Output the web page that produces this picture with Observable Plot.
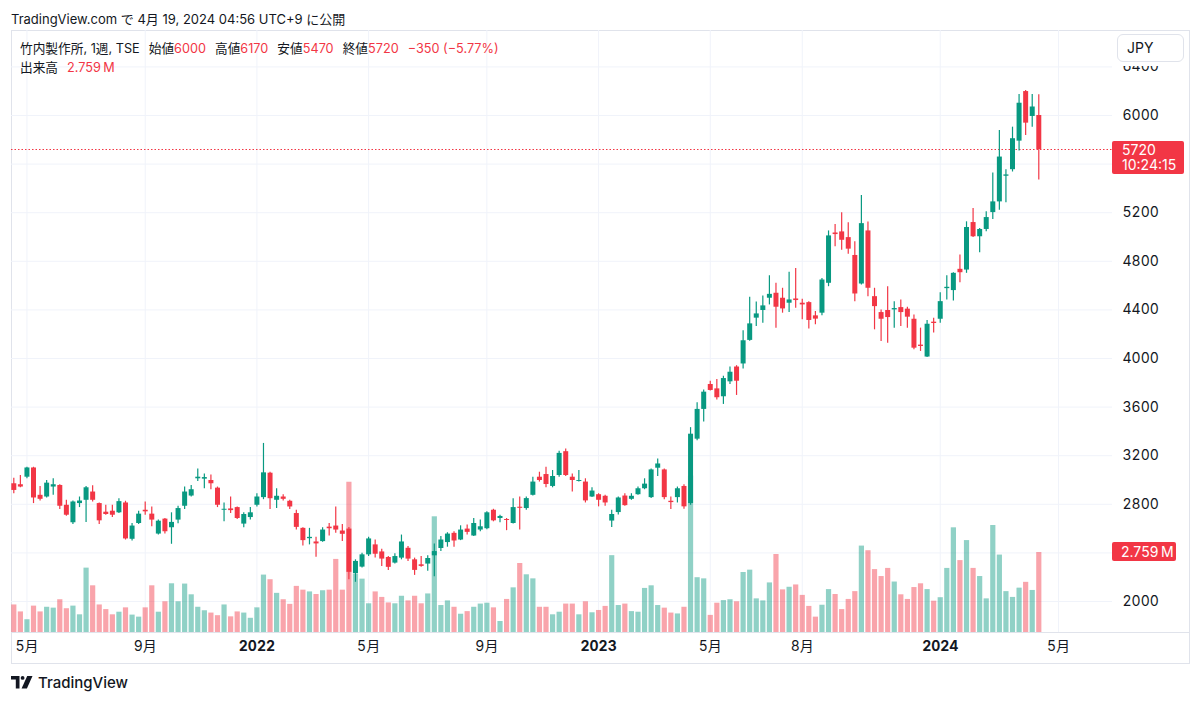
<!DOCTYPE html>
<html><head><meta charset="utf-8">
<script src="https://cdn.jsdelivr.net/npm/d3@7"></script>
<script src="https://cdn.jsdelivr.net/npm/@observablehq/plot@0.6"></script>
<style>
html,body{margin:0;padding:0;background:#fff;}
body{width:1200px;height:701px;overflow:hidden;font-family:Inter,"Noto Sans CJK JP",sans-serif;color:#131722;}
#wrap{position:relative;width:1200px;height:701px;}
.layer{position:absolute;left:0;top:0;}
#frame{position:absolute;left:11px;top:30px;width:1177px;height:632px;border:1px solid #e0e3eb;box-sizing:content-box;}
#sep{position:absolute;left:11px;top:632px;width:1178px;height:1px;background:#e0e3eb;}
#title{position:absolute;left:11px;top:9px;font-size:13px;line-height:20px;white-space:nowrap;}
.leg{position:absolute;left:20px;font-size:12.7px;line-height:18px;white-space:nowrap;}
.leg .r{color:#f23645;}
.leg .g{margin-left:9px;}
#cover{position:absolute;left:1113px;top:31px;width:75px;height:35px;background:#fff;}
#jpy{position:absolute;left:1117px;top:34px;width:67px;height:28px;border:1px solid #e0e3eb;border-radius:6px;background:#fff;box-sizing:border-box;font-size:14px;line-height:26px;padding-left:9px;}
.box{position:absolute;left:1112px;background:#f23645;color:#fff;font-size:14px;border-radius:2px;white-space:nowrap;}
#pbox{width:72px;height:33px;padding-left:10px;box-sizing:border-box;line-height:15.5px;padding-top:1px;}
#vbox{width:64px;height:19px;padding-left:9px;box-sizing:border-box;line-height:19px;}
#logo{position:absolute;left:11px;top:673px;display:flex;align-items:center;gap:5px;font-size:15px;font-weight:500;}
.priceline line{stroke:#f23645 !important;}
</style>
</head><body>
<div id="wrap">
  <div id="title">TradingView.com で 4月 19, 2024 04:56 UTC+9 に公開</div>
  <div id="frame"></div>
  <div id="sep"></div>
</div>
<script>
// ---- data (weekly candles, 竹内製作所 TSE, from week of 2021-04-19) ----
const startWeek = "2021-04-19";
const opens = [2969,2961,3023,3099,2874,2860,2942,2955,2792,2648,2806,2833,2901,2806,2735,2743,2730,2811,2512,2642,2751,2719,2555,2678,2607,2670,2784,2868,3010,3007,2996,2933,2751,2762,2773,2637,2691,2792,2855,3056,2833,2860,2825,2724,2602,2517,2490,2493,2612,2621,2580,2596,2229,2283,2384,2466,2408,2362,2316,2357,2438,2343,2302,2308,2376,2436,2485,2561,2506,2596,2539,2588,2599,2751,2683,2675,2642,2776,2765,2874,3023,3045,2947,3037,3233,3023,2988,2983,2860,2879,2866,2662,2732,2868,2841,2879,2928,2855,3097,3083,2825,2855,2947,2806,3336,3581,3786,3750,3685,3808,3930,3955,4149,4332,4395,4496,4537,4496,4455,4490,4455,4460,4351,4373,4619,5033,5042,4995,4848,4613,5050,4509,4378,4395,4400,4419,4406,4323,4110,4012,4299,4323,4575,4559,4734,4728,5119,5002,5062,5201,5289,5500,5554,5789,6197,5992,6000];
const highs = [3015,3037,3105,3105,2947,2996,3010,2961,2833,2827,2860,2947,2953,2811,2792,2792,2846,2825,2642,2743,2819,2778,2670,2683,2730,2784,2942,2955,3091,3050,3042,2942,2811,2860,2778,2730,2773,2887,3301,3064,2928,2879,2833,2751,2607,2602,2528,2607,2642,2778,2634,2610,2343,2398,2528,2506,2430,2370,2392,2547,2452,2357,2370,2376,2474,2534,2566,2574,2623,2629,2683,2670,2738,2759,2710,2683,2846,2860,2860,3023,3064,3105,3078,3236,3255,3050,3078,3010,2936,2887,2874,2751,2860,2887,2887,2942,3010,3091,3173,3091,2860,2942,2961,3431,3635,3740,3813,3827,3854,3930,3941,4228,4504,4466,4515,4681,4619,4578,4709,4741,4488,4468,4386,4659,5050,5102,5200,5118,4960,5342,5124,4578,4400,4591,4468,4482,4422,4359,4250,4313,4332,4542,4682,4706,4851,5125,5234,5070,5207,5527,5877,5554,5904,6172,6205,6172,6170];
const lows = [2887,2936,3010,2806,2827,2852,2874,2757,2702,2634,2773,2651,2819,2634,2710,2691,2724,2506,2498,2634,2710,2615,2547,2555,2471,2640,2757,2860,2988,2928,2920,2773,2656,2724,2675,2607,2670,2778,2838,2757,2765,2827,2757,2588,2457,2466,2365,2487,2539,2561,2493,2180,2158,2275,2370,2357,2289,2256,2308,2343,2330,2215,2281,2248,2204,2411,2447,2447,2501,2547,2534,2574,2591,2656,2648,2583,2637,2588,2751,2868,2983,2936,2936,3023,3029,2901,2983,2811,2855,2779,2784,2610,2711,2784,2833,2874,2920,2847,3029,2838,2757,2811,2759,2792,3323,3477,3732,3658,3622,3786,3696,3914,4141,4264,4291,4441,4250,4373,4378,4414,4318,4242,4277,4351,4591,4919,4891,4859,4468,4605,4509,4236,4140,4126,4250,4263,4250,4072,4058,4009,4209,4291,4482,4474,4624,4701,4996,4870,5043,5144,5220,5281,5535,5707,5836,5904,5470];
const closes = [2914,2942,3099,2852,2841,2974,2961,2784,2710,2819,2827,2936,2833,2664,2716,2710,2822,2515,2621,2719,2738,2670,2661,2574,2651,2765,2901,2920,3023,3020,2969,2792,2759,2748,2683,2716,2730,2860,3059,2846,2866,2841,2778,2610,2501,2528,2474,2588,2599,2588,2553,2240,2330,2384,2515,2389,2349,2281,2370,2490,2349,2256,2289,2354,2411,2506,2555,2498,2588,2569,2642,2615,2730,2664,2700,2667,2773,2767,2847,2983,2996,2963,3029,3219,3037,2996,2996,2828,2909,2833,2811,2716,2852,2789,2866,2928,2966,3083,3132,2855,2814,2928,2779,3377,3581,3723,3737,3677,3835,3887,3813,4146,4285,4367,4433,4528,4422,4408,4482,4477,4441,4313,4324,4646,5009,5020,4973,4900,4531,5110,4578,4427,4323,4337,4411,4378,4340,4085,4099,4282,4288,4468,4586,4701,4706,5078,5002,5062,5160,5289,5658,5511,5809,6101,5937,6070,5720];
// volume in millions of shares
const volumes = [0.95,0.71,0.44,0.91,0.71,0.87,0.84,1.13,0.82,0.91,0.61,2.22,1.61,0.95,0.79,0.61,0.70,0.85,0.60,0.53,0.85,1.61,0.70,1.06,1.68,1.06,1.67,1.30,0.87,0.75,0.67,0.58,0.95,0.54,0.71,0.67,0.49,0.85,1.98,1.82,1.35,1.13,0.97,1.59,1.46,1.40,1.31,1.44,1.46,2.52,1.46,5.18,2.01,1.84,0.99,1.40,1.21,1.02,0.99,1.25,1.09,1.25,0.99,1.33,3.99,0.93,1.09,0.87,0.63,0.72,0.87,0.98,1.01,0.85,0.38,1.14,1.54,2.38,1.99,1.85,0.87,0.87,0.61,0.70,0.98,0.98,0.61,1.06,0.68,0.76,0.90,2.65,0.93,0.98,0.72,0.70,1.52,1.61,0.93,0.84,0.67,0.64,0.87,5.40,1.89,1.85,0.59,1.01,1.10,1.13,1.06,2.07,2.15,1.16,1.09,1.71,2.69,1.47,1.56,1.64,1.28,0.90,0.53,0.94,1.48,1.31,0.79,1.14,1.41,2.98,2.82,2.17,1.93,2.21,1.74,1.30,1.14,1.55,1.68,1.48,1.08,1.20,2.21,3.61,2.48,3.17,2.21,1.93,1.16,3.69,2.67,1.41,1.21,1.53,1.73,1.45,2.759];
const yTicks = [2000,2400,2800,3200,3600,4000,4400,4800,5200,5600,6000,6400];
const xTickDates = ["2021-05-03","2021-09-06","2022-01-03","2022-05-02","2022-09-05","2023-01-02","2023-05-01","2023-08-07","2024-01-01","2024-05-06"];
const xTickLabels = ["5月","9月","2022","5月","9月","2023","5月","8月","2024","5月"];
const xDomainEnd = "2024-05-06";

// ---- build table ----
const start = new Date(startWeek + "T00:00Z");
const rows = opens.map((o, i) => ({
  date: d3.utcDay.offset(start, 7 * i),
  open: o, high: highs[i], low: lows[i], close: closes[i], volume: volumes[i]
}));
const up = rows.filter(d => d.close >= d.open);
const down = rows.filter(d => d.close < d.open);
const tickDates = xTickDates.map(s => new Date(s + "T00:00Z"));
const labelOf = new Map(tickDates.map((d, i) => [+d, xTickLabels[i]]));
const monthTicks = tickDates.filter((d, i) => !/^\d{4}$/.test(xTickLabels[i]));
const yearTicks = tickDates.filter((d, i) => /^\d{4}$/.test(xTickLabels[i]));

const GREEN = "#089981", RED = "#f23645";
const FONT = 'Inter, "Noto Sans CJK JP", sans-serif';
const xScale = {type: "utc", domain: [start, new Date(xDomainEnd + "T00:00Z")], range: [13.3, 1058]};
const base = {
  width: 1200, height: 701,
  marginLeft: 11, marginRight: 88, marginTop: 30, marginBottom: 69,
  style: {background: "transparent", fontFamily: FONT, fontSize: "14px", color: "#131722", overflow: "visible"}
};
const priceY = {domain: [2000, 6000], range: [601, 115]};

// layer 1: grid + axes
const gridPlot = Plot.plot({
  ...base,
  x: {...xScale},
  y: {...priceY},
  marks: [
    Plot.gridY(yTicks, {stroke: "#f0f3fa", strokeOpacity: 1}),
    Plot.gridX(tickDates, {stroke: "#f0f3fa", strokeOpacity: 1}),
    Plot.axisY(yTicks, {anchor: "right", tickSize: 0, tickPadding: 10, label: null, tickFormat: d => String(d), fill: "#131722"}),
    Plot.axisX(monthTicks, {anchor: "bottom", tickSize: 0, tickPadding: 9, label: null, tickFormat: d => labelOf.get(+d), fill: "#131722"}),
    Plot.axisX(yearTicks, {anchor: "bottom", tickSize: 0, tickPadding: 9, label: null, tickFormat: d => labelOf.get(+d), fill: "#131722", fontWeight: "bold"})
  ]
});

// layer 2: volume
const volPlot = Plot.plot({
  ...base,
  x: {...xScale, axis: null},
  y: {domain: [0, 10], range: [632, 342], axis: null},
  marks: [
    Plot.ruleX(up, {x: "date", y: "volume", stroke: GREEN, strokeOpacity: 0.45, strokeWidth: 5.2}),
    Plot.ruleX(down, {x: "date", y: "volume", stroke: RED, strokeOpacity: 0.45, strokeWidth: 5.2})
  ]
});

// layer 3: candles
const last = rows[rows.length - 1];
const candlePlot = Plot.plot({
  ...base,
  x: {...xScale, axis: null},
  y: {...priceY, axis: null},
  marks: [
    Plot.ruleY([last.close], {stroke: "rgb(242,54,69)", strokeDasharray: "1.5,2", strokeWidth: 1.2, className: "priceline"}),
    Plot.ruleX(up, {x: "date", y1: "low", y2: "high", stroke: GREEN, strokeWidth: 1.2}),
    Plot.ruleX(down, {x: "date", y1: "low", y2: "high", stroke: RED, strokeWidth: 1.2}),
    Plot.ruleX(up, {x: "date", y1: "open", y2: "close", stroke: GREEN, strokeWidth: 5}),
    Plot.ruleX(down, {x: "date", y1: "open", y2: "close", stroke: RED, strokeWidth: 5})
  ]
});

const wrap = document.getElementById("wrap");
for (const p of [gridPlot, volPlot, candlePlot]) {
  p.classList.add("layer");
  p.style.position = "absolute"; p.style.left = "0"; p.style.top = "0";
  wrap.appendChild(p);
}

// overlays
const fmtM = v => v.toFixed(3) + "\u2009M";
const prev = rows[rows.length - 2].close;
const chg = last.close - prev;
const pct = chg / prev * 100;
const minus = s => s.replace("-", "\u2212");
function el(tag, attrs, html) { const e = document.createElement(tag); Object.assign(e, attrs); if (html != null) e.innerHTML = html; wrap.appendChild(e); return e; }

el("div", {className: "leg", style: "top:40px"},
  `竹内製作所, 1週, TSE<span class="g">始値<span class="r">${last.open}</span></span><span class="g">高値<span class="r">${last.high}</span></span><span class="g">安値<span class="r">${last.low}</span></span><span class="g">終値<span class="r">${last.close}</span></span><span class="g r">${minus(String(chg))} (${minus(pct.toFixed(2))}%)</span>`);
el("div", {className: "leg", style: "top:59px"}, `出来高<span class="g r">${fmtM(last.volume)}</span>`);

el("div", {id: "cover"});
el("div", {id: "jpy"}, "JPY");

const yp = candlePlot.scale("y").apply(last.close);
const pb = el("div", {id: "pbox", className: "box"}, `${last.close}<br>10:24:15`);
pb.style.top = (yp - 8.5) + "px";
const yv = volPlot.scale("y").apply(last.volume);
const vb = el("div", {id: "vbox", className: "box"}, fmtM(last.volume));
vb.style.top = (yv - 9.5) + "px";

el("div", {id: "logo"}, `<svg width="22" height="13" viewBox="0 0 22 13"><path d="M0 0H8.5V12.5H4.8V3.6H0Z" fill="#131722"/><circle cx="11.6" cy="1.9" r="1.9" fill="#131722"/><path d="M16.2 0H21.5L15.9 12.5H10.6Z" fill="#131722"/></svg><span>TradingView</span>`);
</script>
</body></html>
